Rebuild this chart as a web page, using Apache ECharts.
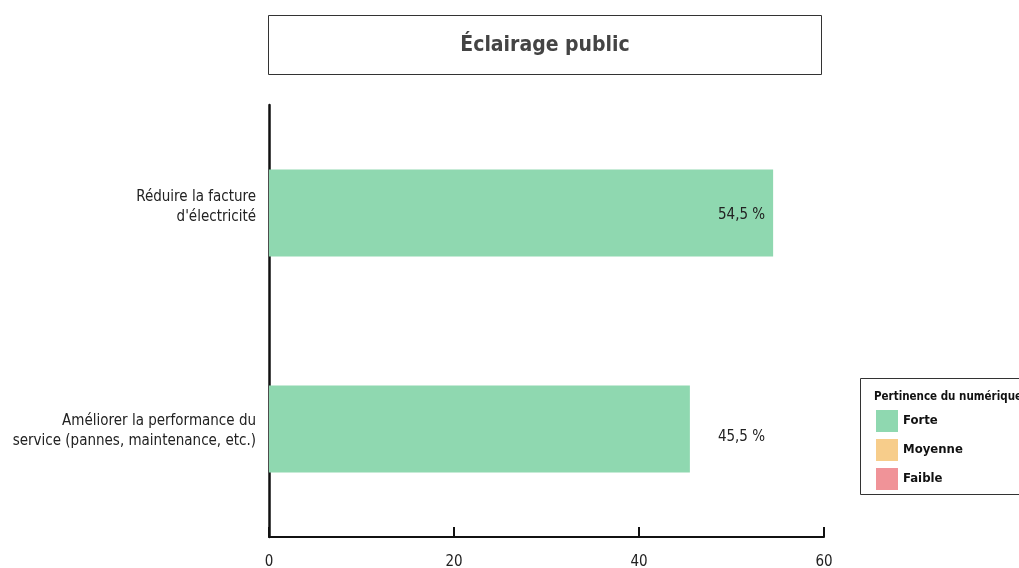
<!DOCTYPE html>
<html><head><meta charset="utf-8">
<script src="https://cdn.jsdelivr.net/npm/echarts@6/dist/echarts.min.js"></script>
<style>html,body{margin:0;padding:0;background:#fff}#c{width:1019px;height:568px}</style>
</head><body><div id="c"></div>
<script>
const categories = ["Réduire la facture\nd'électricité", "Améliorer la performance du\nservice (pannes, maintenance, etc.)"];
const forte = [54.5, 45.5];
const moyenne = [null, null];
const faible = [null, null];
const xTicks = [0, 20, 40, 60];
const FONT = '"Liberation Sans Narrow","DejaVu Sans Condensed","Roboto",sans-serif';

const chart = echarts.init(document.getElementById('c'), null, {renderer: 'canvas'});
const fmt = v => String(v).replace('.', ',') + ' %';
const catFormatter = (value, index) => {
  const lines = value.split('\n').map(l => '{t|' + l + '}');
  if (index === 0) lines.push('{up| }');
  else lines.unshift('{dn| }');
  return lines.join('\n');
};
chart.setOption({
  animation: false,
  textStyle: {fontFamily: FONT},
  grid: {left: 269, right: 195, top: 105, bottom: 31, containLabel: false, outerBoundsMode: 'none'},
  xAxis: {
    type: 'value', min: xTicks[0], max: xTicks[xTicks.length - 1], interval: 20,
    axisLine: {show: true, lineStyle: {color: '#111', width: 2}},
    axisTick: {show: true, inside: true, length: 10, lineStyle: {color: '#111', width: 2}},
    splitLine: {show: false},
    axisLabel: {margin: 18, fontSize: 15, color: '#222', fontFamily: FONT}
  },
  yAxis: {
    type: 'category', inverse: true, data: categories,
    axisLine: {show: true, lineStyle: {color: '#111', width: 2.5}},
    axisTick: {show: false},
    axisLabel: {
      margin: 13, align: 'right', formatter: catFormatter,
      rich: {
        t: {fontSize: 15, lineHeight: 20, color: '#222', fontFamily: FONT, align: 'right'},
        up: {fontSize: 1, lineHeight: 12, align: 'right'},
        dn: {fontSize: 1, lineHeight: 4, align: 'right'}
      }
    }
  },
  legend: {
    orient: 'vertical', left: 871, top: 405, itemWidth: 22, itemHeight: 22, itemGap: 7,
    icon: 'rect', selectedMode: false,
    data: ['Forte', 'Moyenne', 'Faible'],
    textStyle: {fontSize: 13, fontWeight: 'bold', color: '#111', fontFamily: FONT}
  },
  graphic: [
    {type: 'rect', shape: {x: 268.5, y: 15.5, width: 553, height: 59}, style: {fill: '#fff', stroke: '#333', lineWidth: 1}, z: -1},
    {type: 'text', x: 545, y: 46, style: {text: 'Éclairage public', font: 'bold 21px ' + FONT, fill: '#444', textAlign: 'center', textVerticalAlign: 'middle'}},
    {type: 'rect', shape: {x: 860.5, y: 378.5, width: 170, height: 116}, style: {fill: 'none', stroke: '#333', lineWidth: 1}},
    {type: 'text', x: 874, y: 397, style: {text: 'Pertinence du numérique', font: 'bold 11.5px ' + FONT, fill: '#111', textVerticalAlign: 'middle'}}
  ],
  series: [
    {name: 'Forte', type: 'bar', stack: 't', barWidth: 87, data: [
      {value: forte[0], label: {show: true, position: 'insideRight', distance: 8, offset: [0, 2]}},
      {value: forte[1], label: {show: true, position: 'right', distance: 28, offset: [0, 8]}}
    ], itemStyle: {color: '#8fd8b0'},
      label: {formatter: p => fmt(p.value), fontSize: 15, color: '#222', fontFamily: FONT}},
    {name: 'Moyenne', type: 'bar', stack: 't', data: moyenne, itemStyle: {color: '#f7cd8b'}},
    {name: 'Faible', type: 'bar', stack: 't', data: faible, itemStyle: {color: '#f09398'}}
  ]
});
</script></body></html>
